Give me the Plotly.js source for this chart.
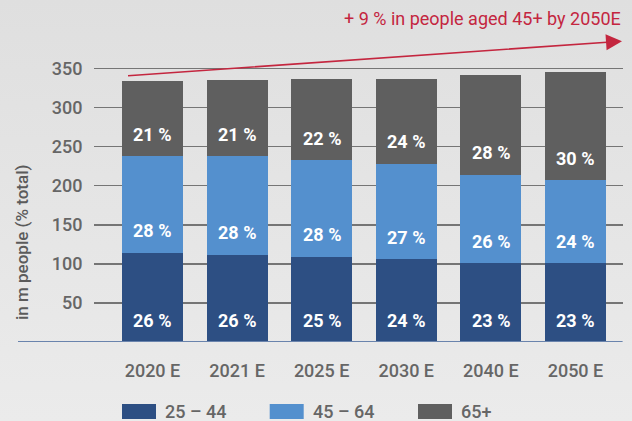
<!DOCTYPE html>
<html><head><meta charset="utf-8">
<script src="https://cdn.plot.ly/plotly-3.0.1.min.js"></script>
<style>
html,body{margin:0;padding:0;}
#chart{width:632px;height:421px;background:linear-gradient(#dfdfdf,#ebebeb);}
</style></head><body><div id="chart"></div>
<script>
const years = ['2020 E','2021 E','2025 E','2030 E','2040 E','2050 E'];
const age25to44 = [114,112,109,106,101,101];
const age45to64 = [124,126,124,122,113,106];
const age65plus = [96,97,104,109,128,139];
const pct25to44 = ['26 %','26 %','25 %','24 %','23 %','23 %'];
const pct45to64 = ['28 %','28 %','28 %','27 %','26 %','24 %'];
const pct65plus = ['21 %','21 %','22 %','24 %','28 %','30 %'];
const seriesNames = ['25 – 44','45 – 64','65+'];
const yTicks = [50,100,150,200,250,300,350];
const yTitle = 'in m people (% total)';
const note = '+ 9 % in people aged 45+ by 2050E';

const colors = ['#2d4f83','#5490ce','#5f5f5f'];
const FONT = 'Roboto, "Noto Sans", sans-serif';
// pixel -> paper helpers (layout only)
const L=94, R=623, T=53, B=342;
const px = x => (x-L)/(R-L);
const py = y => (B-y)/(B-T);

const series = [age25to44, age45to64, age65plus];
const pcts = [pct25to44, pct45to64, pct65plus];

const traces = series.map((vals,k)=>({
  type:'bar', x:years, y:vals, name:seriesNames[k],
  marker:{color:colors[k], line:{width:0}}, showlegend:false, hoverinfo:'skip'
}));

const annotations = [];
years.forEach((yr,i)=>{
  let base = 0;
  series.forEach((vals,k)=>{
    annotations.push({x:yr, y:base, xref:'x', yref:'y', text:pcts[k][i], showarrow:false,
      yanchor:'middle', yshift:22, font:{family:FONT, size:18, color:'#ffffff', weight:'bold'}});
    base += vals[i];
  });
});
// arrow
annotations.push({x:px(622), y:py(41.2), xref:'paper', yref:'paper', ax:126.5-622, ay:75.8-41.2,
  text:'', showarrow:true, arrowhead:2, arrowsize:2, arrowwidth:1.6, arrowcolor:'#c4263f', standoff:0});
annotations.push({x:1, y:py(19), xref:'paper', yref:'paper', xanchor:'right', yanchor:'middle',
  text:note, showarrow:false, font:{family:FONT, size:18, color:'#c4263f'}});
annotations.push({x:px(22), y:py(243), xref:'paper', yref:'paper', textangle:-90, xanchor:'center', yanchor:'middle',
  text:yTitle, showarrow:false, font:{family:FONT, size:17, color:'#5b5b5b', weight:500}});

const shapes = [{type:'line', xref:'paper', yref:'y', x0:px(18), x1:px(622.6), y0:0, y1:0,
  line:{color:'#6a84ad', width:2}, layer:'above'}];
const swX = [122, 269.7, 418];
seriesNames.forEach((n,k)=>{
  shapes.push({type:'rect', xref:'paper', yref:'paper', x0:px(swX[k]), x1:px(swX[k]+34), y0:py(419), y1:py(404),
    fillcolor:colors[k], line:{width:0}});
  annotations.push({x:px(swX[k]+41), y:py(411.5), xref:'paper', yref:'paper', xanchor:'left', yanchor:'middle',
    text:n, showarrow:false, font:{family:FONT, size:18, color:'#666666', weight:500}});
});

const layout = {
  width:632, height:421, barmode:'stack', bargap:0.279,
  paper_bgcolor:'rgba(0,0,0,0)', plot_bgcolor:'rgba(0,0,0,0)',
  margin:{l:L, r:632-R, t:T, b:421-B},
  xaxis:{type:'category', range:[-0.691, 5.562], showgrid:false, zeroline:false, showline:false,
    ticks:'outside', ticklen:12, tickcolor:'rgba(0,0,0,0)',
    tickfont:{family:FONT, size:18, color:'#666666', weight:500}},
  yaxis:{range:[0,370], tickvals:yTicks, showgrid:true, gridcolor:'#757575', gridwidth:1.4,
    zeroline:false, showline:false, ticks:'outside', ticklen:7, tickcolor:'rgba(0,0,0,0)',
    tickfont:{family:FONT, size:18, color:'#666666', weight:500}},
  annotations, shapes, showlegend:false
};
Plotly.newPlot('chart', traces, layout, {displayModeBar:false, staticPlot:true});
</script></body></html>
